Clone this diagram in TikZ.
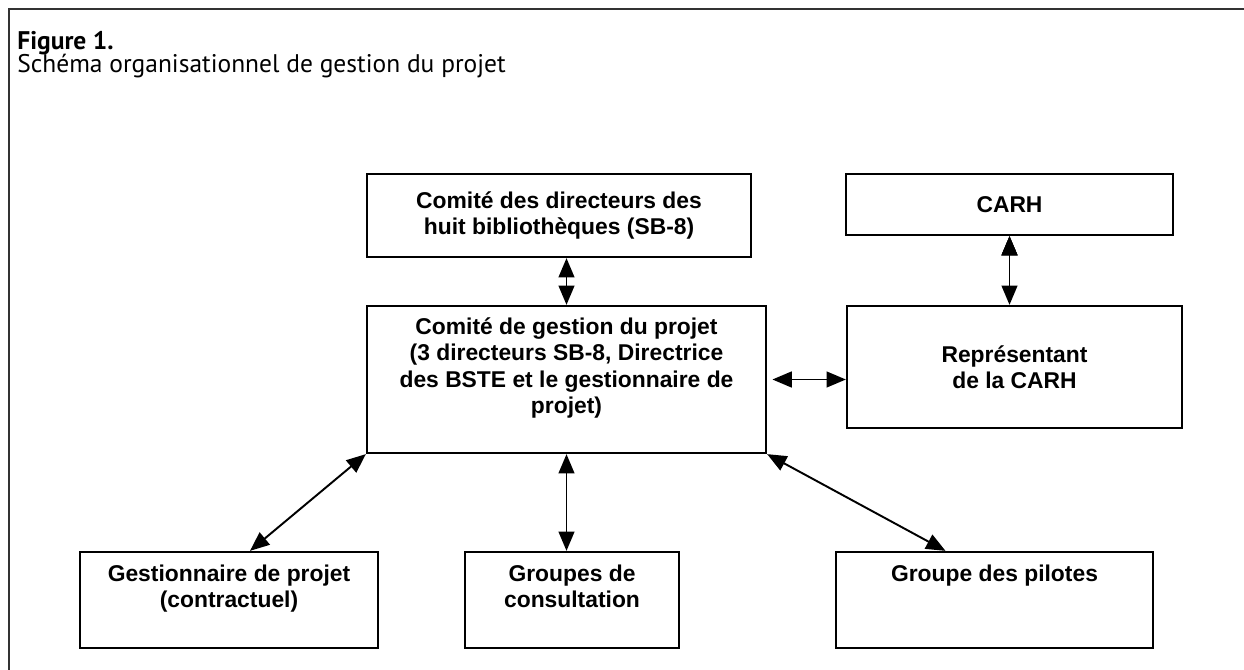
\documentclass[tikz,border=0pt]{standalone}
\usepackage{fontspec}
\setmainfont{Liberation Sans}
\newfontfamily\titlefont{PT Sans}
\usetikzlibrary{arrows.meta,calc}

\begin{document}
\begin{tikzpicture}[orgbox/.style={draw, line width=1.3pt, align=center, inner sep=2pt, font=\fontsize{13}{15}\selectfont\bfseries}, link/.style={{Triangle[length=11pt,width=9pt]}-{Triangle[length=11pt,width=9pt]}, line width=1.1pt}, frame/.style={draw=black!80, line width=0.8pt}, title/.style={anchor=base west, inner sep=0pt, font=\titlefont\fontsize{14.5}{17}\selectfont}]
    \useasboundingbox (0,0) rectangle (24.88,-13.4);
    \draw[frame] (0.18,-13.4) -- (0.18,-0.18) -- (24.88,-0.18);
    
    \node[title, font=\titlefont\fontsize{14.5}{17}\selectfont\bfseries] (fig) at (0.34,-1.0) {Figure 1.};
    \node[title] (caption) at (0.34,-1.46) {Schéma organisationnel de gestion du projet};
    
    \node[orgbox, minimum width=7.68cm, minimum height=1.66cm] (dirs) at (11.18,-4.31) {Comité des directeurs des\\huit bibliothèques (SB-8)};
    \node[orgbox, minimum width=7.98cm, minimum height=2.94cm, text depth=16pt] (gestion) at (11.33,-7.59) {Comité de gestion du projet\\(3 directeurs SB-8, Directrice\\des BSTE et le gestionnaire de\\projet)};
    \node[orgbox, minimum width=6.54cm, minimum height=1.22cm] (carh) at (20.19,-4.09) {CARH};
    \node[orgbox, minimum width=6.70cm, minimum height=2.44cm] (rep) at (20.29,-7.34) {Représentant\\de la CARH};
    
    \node[orgbox, minimum width=5.96cm, minimum height=1.92cm, text depth=16pt] (gest) at (4.58,-12.0) {Gestionnaire de projet\\(contractuel)};
    \node[orgbox, minimum width=4.28cm, minimum height=1.92cm, text depth=16pt] (consult) at (11.44,-12.0) {Groupes de\\consultation};
    \node[orgbox, minimum width=6.34cm, minimum height=1.92cm, text depth=31pt] (pilotes) at (19.89,-12.0) {Groupe des pilotes};
    
    \path[draw, link]
        (dirs.south -| gestion.north) edge (gestion.north)
        (carh.south) edge (carh.south |- rep.north)
        ;
    \draw[link, shorten <=3pt] (gestion.east) -- (gestion.east -| rep.west);
    \draw[link] (gestion.south west) -- ($(gest.north)+(0.42,0)$);
    \draw[link] (gestion.south) -- (gestion.south |- consult.north);
    \draw[link] (gestion.south east) -- ($(pilotes.north)+(-0.98,0)$);
\end{tikzpicture}
\end{document}
